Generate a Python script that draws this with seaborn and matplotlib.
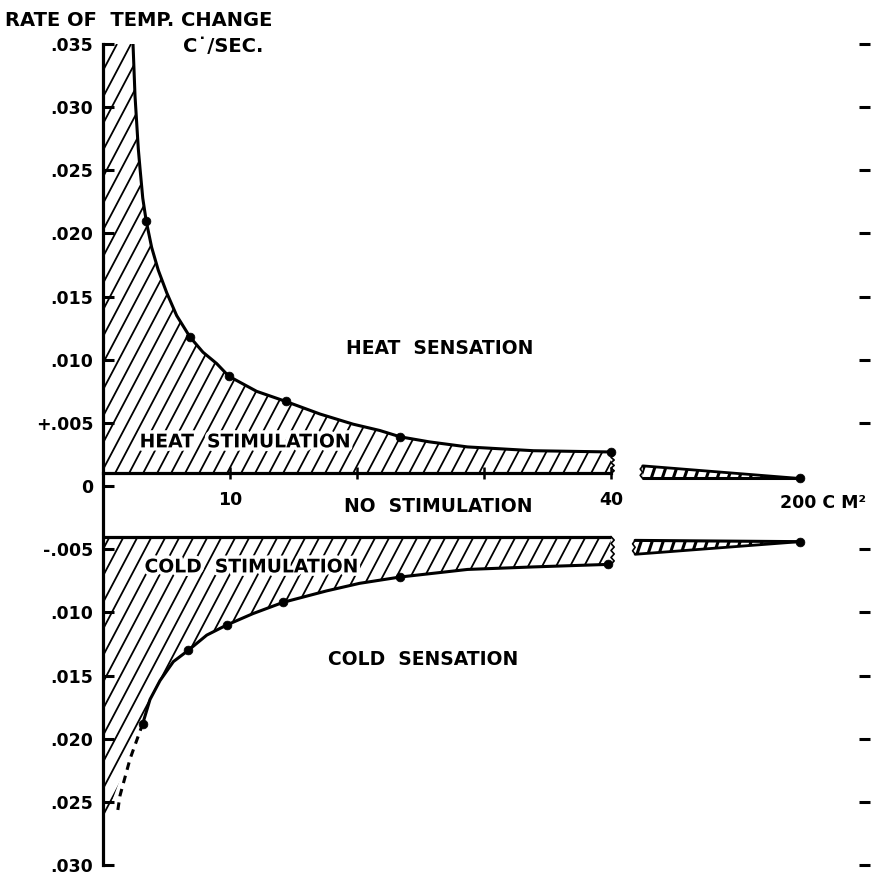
import numpy as np
import matplotlib
matplotlib.use("Agg")
import matplotlib.pyplot as plt
import matplotlib.transforms as mtransforms
import seaborn as sns
import pandas as pd
from matplotlib.collections import LineCollection
from matplotlib.patches import Polygon
import matplotlib.patheffects as pe

# ---------------- data ----------------
heat_area = [3.4, 6.85, 9.9, 14.4, 23.4, 40, 200]
heat_rate = [0.0210, 0.0118, 0.0087, 0.0067, 0.0039, 0.0027, 0.0006]
cold_area = [3.13, 6.72, 9.74, 14.2, 23.4, 39.8, 200]
cold_rate = [-0.0188, -0.0130, -0.0110, -0.0092, -0.0072, -0.0062, -0.0044]

heat_curve_area = [2.36, 2.52, 2.78, 2.91, 3.13, 3.4, 3.83, 4.35, 5.02, 5.80, 6.85,
                   7.87, 8.95, 9.9, 12.1, 14.4, 17.1, 19.7, 21.8, 23.4, 25.7,
                   28.7, 33.9, 40.0]
heat_curve_rate = [0.0351, 0.0309, 0.0267, 0.0252, 0.0228, 0.0210, 0.0189, 0.0171,
                   0.0153, 0.0135, 0.0118, 0.0106, 0.0097, 0.0087, 0.0075, 0.0067,
                   0.0057, 0.0049, 0.0044, 0.0039, 0.0035, 0.0031, 0.0028, 0.0027]
cold_curve_area = [3.13, 3.70, 4.49, 5.54, 6.72, 8.17, 9.74, 11.8, 14.2, 17.6, 20.2,
                   23.4, 28.7, 33.9, 39.8]
cold_curve_rate = [-0.0188, -0.0169, -0.0154, -0.0139, -0.0130, -0.0118, -0.0110,
                   -0.0101, -0.0092, -0.0083, -0.0077, -0.0072, -0.0066, -0.0064,
                   -0.0062]
cold_extrap_area = [3.13, 2.13, 1.34, 1.1]
cold_extrap_rate = [-0.0188, -0.0216, -0.0245, -0.0261]
cold_hatch_edge_area = [3.13, 1.6, 0.0]
cold_hatch_edge_rate = [-0.0188, -0.0225, -0.0269]

heat_threshold = 0.001
cold_threshold = -0.004
heat_wedge_rate = [0.0016, 0.0006]     # curve at wedge start, base
cold_wedge_rate = [-0.0054, -0.0043]   # curve at wedge start, base

y_ticks = [0.035, 0.030, 0.025, 0.020, 0.015, 0.010, 0.005, 0.0,
           -0.005, -0.010, -0.015, -0.020, -0.025, -0.030]
y_labels = [".035", ".030", ".025", ".020", ".015", ".010", "+.005", "0",
            "-.005", ".010", ".015", ".020", ".025", ".030"]
x_ticks = [10, 20, 30, 40, 200]
x_labels = ["10", "", "", "40", "200 C M\u00b2"]

# ---------------- layout helpers ----------------
BREAK_POS = 54.9          # where 200 cm^2 is drawn on the broken axis
HEAT_WEDGE_START = 42.5
COLD_WEDGE_START = 41.9


def xpos(a):
    a = np.asarray(a, dtype=float)
    return np.where(a <= 40, a, 40 + (a - 40) * (BREAK_POS - 40) / 160.0)


sns.set_theme(style="white")
plt.rcParams["font.family"] = ["DejaVu Sans"]
plt.rcParams["font.weight"] = "bold"

TOP_PX, BOT_PX = 44, 865
W_PX, H_PX = 767, BOT_PX - TOP_PX
fig = plt.figure(figsize=(8.73, 8.80), dpi=100)
ax = fig.add_axes([103 / 873, (880 - BOT_PX) / 880, W_PX / 873, H_PX / 880])
ax.set_xlim(0, (870 - 103) / 12.7)
ax.set_ylim(-0.030, 0.035)
ax.set_facecolor("white")


def hatch(patch, spacing=14, slope=1.9, lw=1.3):
    ax.add_patch(patch)
    segs = []
    run = H_PX / slope
    b = -run
    while b < W_PX:
        segs.append([(b / W_PX, 0.0), ((b + run) / W_PX, 1.0)])
        b += spacing
    lc = LineCollection(segs, colors="black", linewidths=lw,
                        transform=ax.transAxes, zorder=1)
    ax.add_collection(lc)
    lc.set_clip_path(patch)


# heat stimulation region
hx = np.concatenate([[0], xpos(heat_curve_area), [40, 0]])
hy = np.concatenate([[0.035], heat_curve_rate, [heat_threshold, heat_threshold]])
hatch(Polygon(np.column_stack([hx, hy]), closed=True, fill=False, edgecolor="none"))

# cold stimulation region
cx = np.concatenate([[0, 40], xpos(cold_curve_area)[::-1], cold_hatch_edge_area[1:]])
cy = np.concatenate([[cold_threshold, cold_threshold], cold_curve_rate[::-1],
                     cold_hatch_edge_rate[1:]])
hatch(Polygon(np.column_stack([cx, cy]), closed=True, fill=False, edgecolor="none"))

# far wedges (broken axis part)
hw = np.array([[HEAT_WEDGE_START, heat_wedge_rate[0]],
               [xpos(heat_area[-1]), heat_rate[-1]],
               [HEAT_WEDGE_START, heat_wedge_rate[1]]])
hatch(Polygon(hw, closed=True, fill=False, edgecolor="none"), spacing=11,
      slope=3.0, lw=2.2)
ax.plot(hw[[0, 1]][:, 0], hw[[0, 1]][:, 1], color="black", lw=2.0, zorder=3)
ax.plot(hw[[2, 1]][:, 0], hw[[2, 1]][:, 1], color="black", lw=2.2, zorder=3)
cw = np.array([[COLD_WEDGE_START, cold_wedge_rate[1]],
               [xpos(cold_area[-1]), cold_rate[-1]],
               [COLD_WEDGE_START, cold_wedge_rate[0]]])
hatch(Polygon(cw, closed=True, fill=False, edgecolor="none"), spacing=11,
      slope=3.0, lw=2.2)
ax.plot(cw[[0, 1]][:, 0], cw[[0, 1]][:, 1], color="black", lw=2.2, zorder=3)
ax.plot(cw[[2, 1]][:, 0], cw[[2, 1]][:, 1], color="black", lw=2.0, zorder=3)


def zigzag(x0, y0, y1, amp=0.25, n=4):
    ys = np.linspace(y0, y1, 2 * n + 1)
    xs = x0 + np.array([0 if i % 2 == 0 else amp for i in range(len(ys))])
    ax.plot(xs, ys, color="black", lw=1.2, zorder=3)


zigzag(40, heat_threshold, heat_rate[-2])
zigzag(40, cold_threshold, cold_rate[-2])
zigzag(HEAT_WEDGE_START, heat_wedge_rate[1], heat_wedge_rate[0], amp=-0.2, n=2)
zigzag(COLD_WEDGE_START, cold_wedge_rate[1], cold_wedge_rate[0], amp=-0.2, n=2)

# curves and points
sns.lineplot(x=xpos(heat_curve_area), y=heat_curve_rate, sort=False, ax=ax,
             color="black", lw=2.2, zorder=4)
sns.lineplot(x=xpos(cold_curve_area), y=cold_curve_rate, sort=False, ax=ax,
             color="black", lw=2.2, zorder=4)
ax.plot(xpos(cold_extrap_area), cold_extrap_rate, color="black", lw=2.2,
        ls=(0, (2.5, 2.0)), zorder=4)
sns.scatterplot(x=xpos(heat_area), y=heat_rate, ax=ax, color="black", s=40,
                edgecolor="black", zorder=5)
sns.scatterplot(x=xpos(cold_area), y=cold_rate, ax=ax, color="black", s=40,
                edgecolor="black", zorder=5)

# no-stimulation band edge
ax.hlines(cold_threshold, 0, 40, color="black", lw=2.3, zorder=4)

# spines and ticks
for s in ["top", "right"]:
    ax.spines[s].set_visible(False)
ax.spines["left"].set_linewidth(2.3)
ax.spines["left"].set_color("black")
ax.spines["left"].set_bounds(-0.030, 0.035)
ax.spines["left"].set_zorder(6)
ax.spines["bottom"].set_position(("data", heat_threshold))
ax.spines["bottom"].set_bounds(0, 40)
ax.spines["bottom"].set_linewidth(2.3)
ax.spines["bottom"].set_color("black")
ax.spines["bottom"].set_zorder(6)

ax.set_yticks(y_ticks)
ax.set_yticklabels(y_labels)
ax.tick_params(axis="y", left=True, right=True, direction="in", length=8,
               width=2.2, color="black", labelsize=12.5, pad=7,
               labelcolor="black")
for t, v in zip(ax.yaxis.get_major_ticks(), y_ticks):
    if v == 0:
        t.tick2line.set_visible(False)
    t.label1.set_fontweight("bold")

ax.set_xticks(xpos(x_ticks))
ax.set_xticklabels(x_labels)
ax.tick_params(axis="x", bottom=True, direction="inout", length=9, width=1.8,
               color="black", labelsize=12.5, pad=8, labelcolor="black")
for t, v in zip(ax.xaxis.get_major_ticks(), x_ticks):
    if v > 40:
        t.tick1line.set_visible(False)
    t.label1.set_fontweight("bold")
lab200 = ax.xaxis.get_major_ticks()[-1].label1
lab200.set_horizontalalignment("left")
lab200.set_transform(lab200.get_transform() +
                     mtransforms.ScaledTranslation(-20 / 100, -3 / 100,
                                                   fig.dpi_scale_trans))

# texts
stroke = [pe.withStroke(linewidth=5, foreground="white")]
txt = dict(fontsize=13.5, fontweight="bold", color="black", zorder=7)
ax.text(26.5, 0.0109, "HEAT  SENSATION", ha="center", va="center", **txt)
ax.text(26.4, -0.0016, "NO  STIMULATION", ha="center", va="center", **txt)
ax.text(25.2, -0.0137, "COLD  SENSATION", ha="center", va="center", **txt)
ax.text(11.2, 0.0035, "HEAT  STIMULATION", ha="center", va="center",
        path_effects=stroke, **txt)
ax.text(11.7, -0.0064, "COLD  STIMULATION", ha="center", va="center",
        path_effects=stroke, **txt)
fig.text(5 / 873, 1 - 20 / 880, "RATE OF  TEMP. CHANGE", ha="left", va="center",
         fontsize=14, fontweight="bold", color="black")
fig.text(183 / 873, 1 - 46 / 880, "C\u02d9/SEC.", ha="left", va="center",
         fontsize=14, fontweight="bold", color="black")

fig.savefig("out.png", dpi=100, facecolor="white")
